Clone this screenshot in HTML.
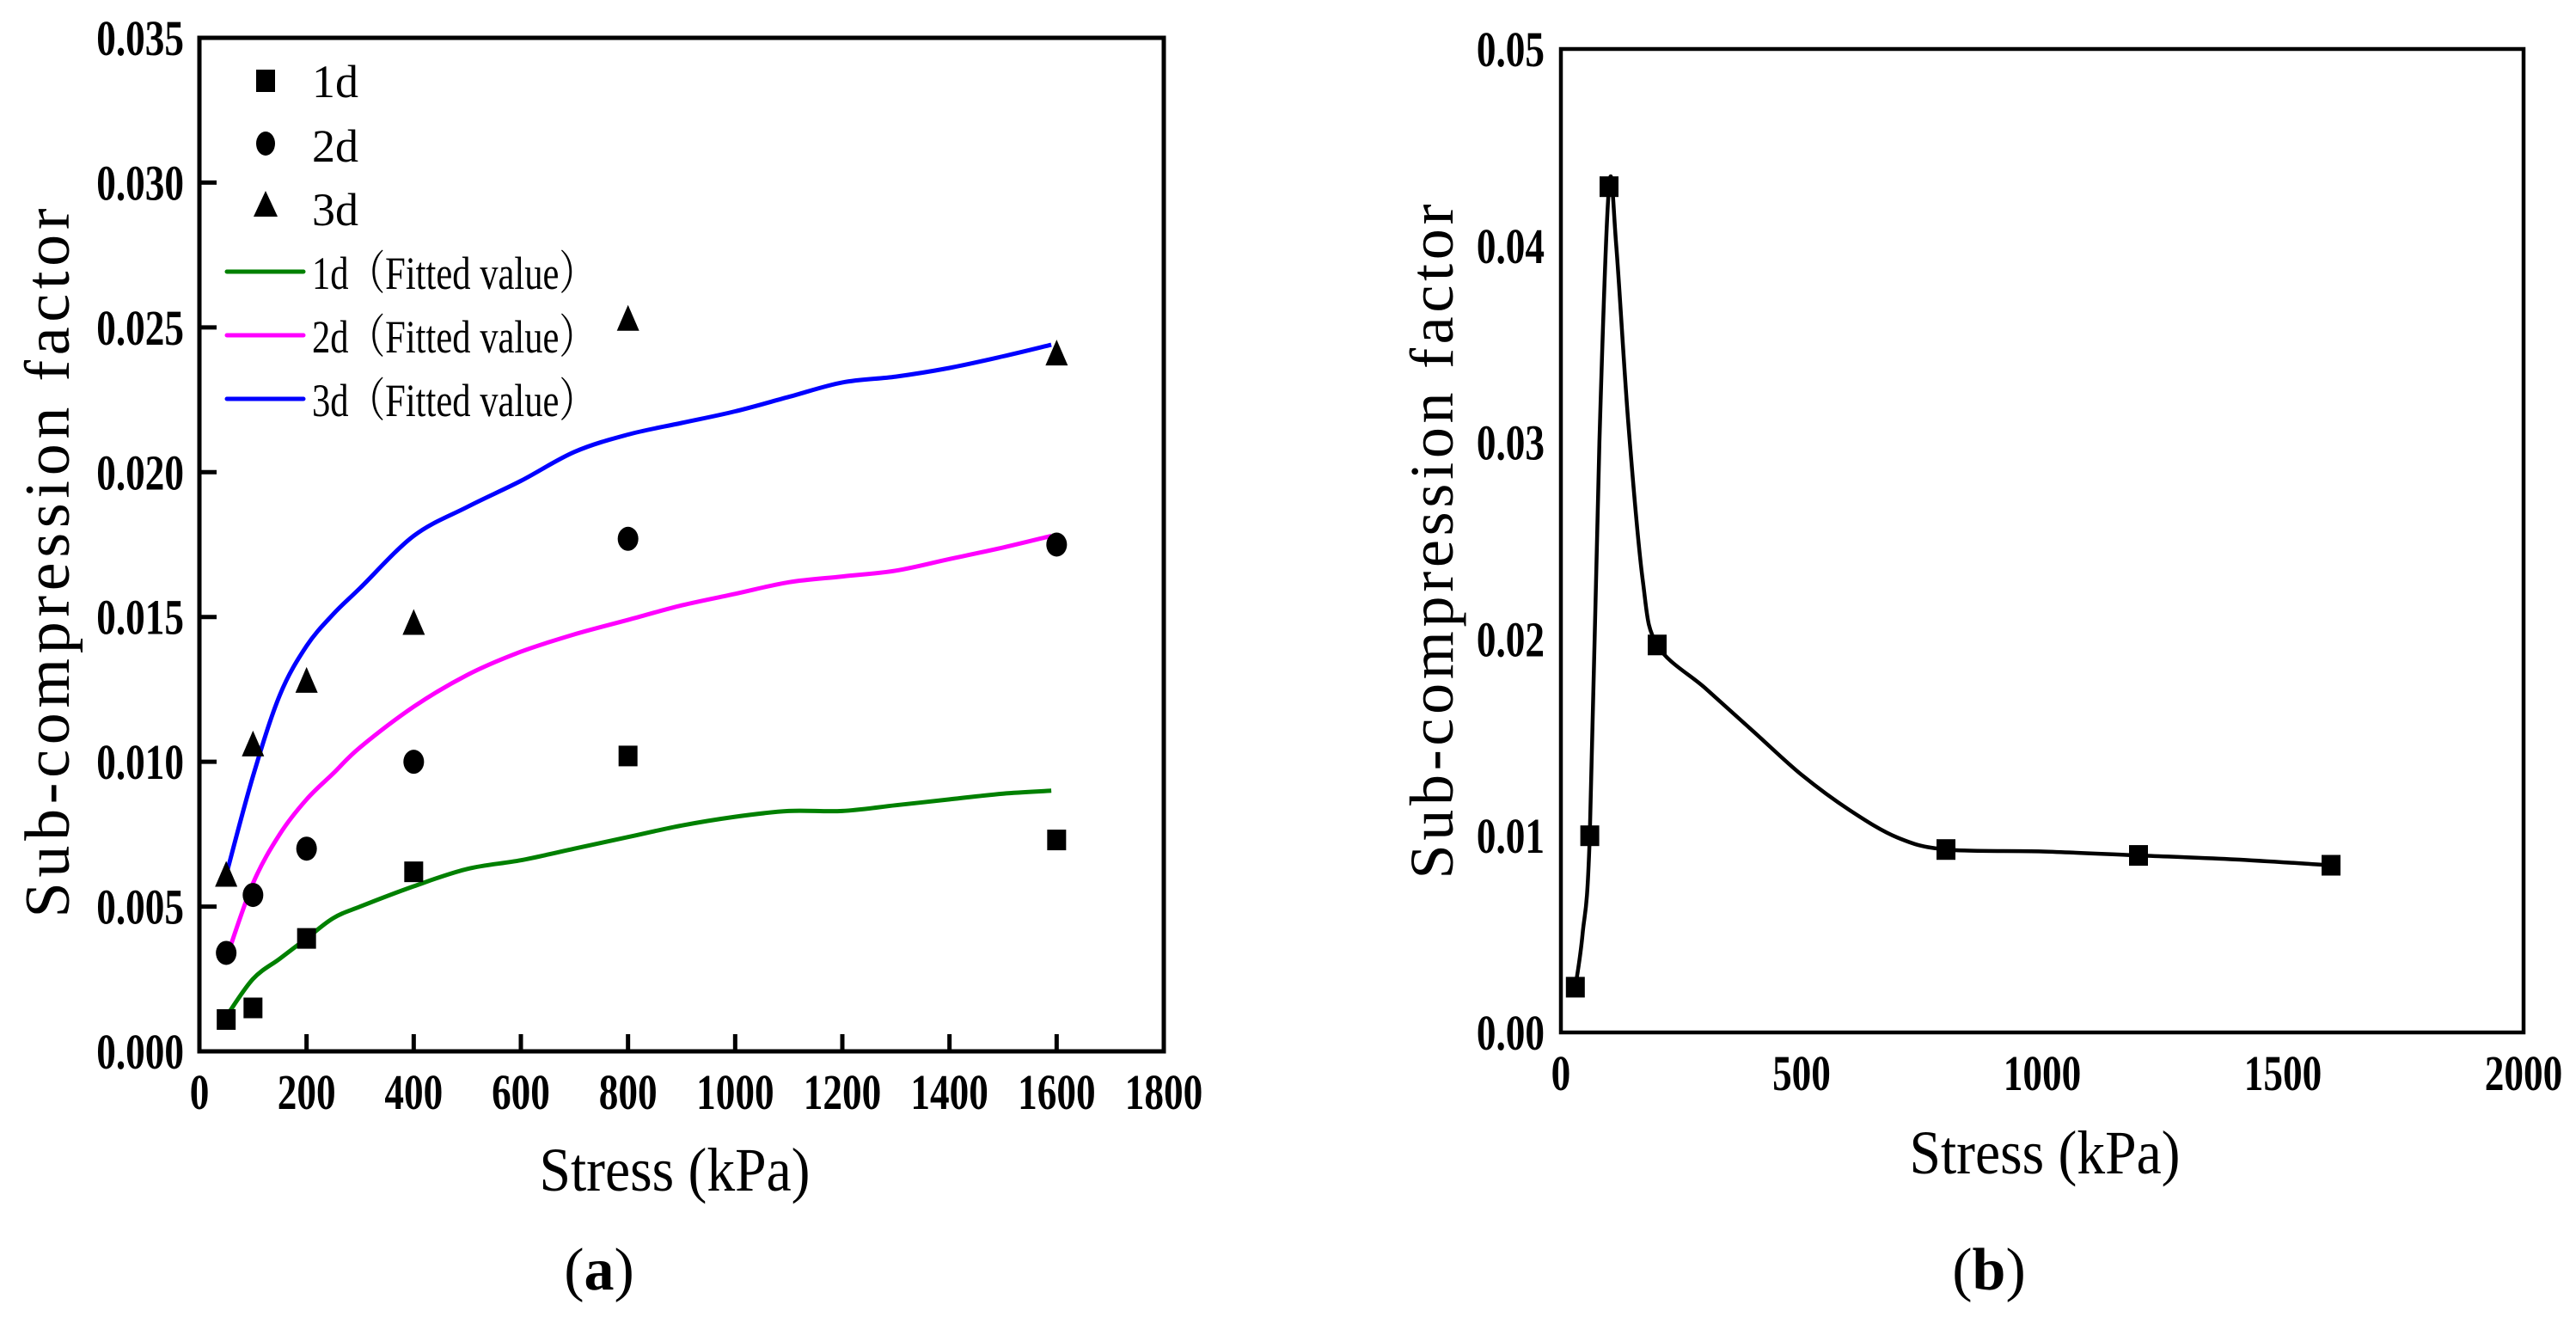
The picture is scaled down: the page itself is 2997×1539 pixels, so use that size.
<!DOCTYPE html>
<html><head><meta charset="utf-8"><style>
html,body{margin:0;padding:0;background:#fff;}
svg{display:block;}
text{font-family:"Liberation Serif",serif;fill:#000;}
.tk{font-weight:bold;font-size:58px;}
</style></head><body>
<svg id="fig" width="2997" height="1539" viewBox="0 0 2997 1539" xmlns="http://www.w3.org/2000/svg">
<g id="pa"></g>
<g id="pb"></g>
</svg>
<script>
// Panel (a) data
const aStress = [50, 100, 200, 400, 800, 1600];
const a1d = [0.0011, 0.0015, 0.0039, 0.0062, 0.0102, 0.0073];
const a2d = [0.0034, 0.0054, 0.0070, 0.0100, 0.0177, 0.0175];
const a3d = [0.0061, 0.0106, 0.0128, 0.0148, 0.0253, 0.0241];
const fitX = [50,100,150,200,250,300,400,500,600,700,800,900,1000,1100,1200,1300,1400,1500,1590];
const fit1d = [0.0012,0.0025,0.0032,0.0039,0.0046,0.0050,0.0057,0.0063,0.0066,0.0070,0.0074,0.0078,0.0081,0.0083,0.0083,0.0085,0.0087,0.0089,0.0090];
const fit2d = [0.0032,0.0058,0.0075,0.0087,0.0096,0.0105,0.0119,0.0130,0.0138,0.0144,0.0149,0.0154,0.0158,0.0162,0.0164,0.0166,0.0170,0.0174,0.0178];
const fit3d = [0.0061,0.0095,0.0123,0.0140,0.0151,0.0160,0.0178,0.0188,0.0197,0.0207,0.0213,0.0217,0.0221,0.0226,0.0231,0.0233,0.0236,0.0240,0.0244];
const aXTicks = [0,200,400,600,800,1000,1200,1400,1600,1800];
const aYTicks = ["0.000","0.005","0.010","0.015","0.020","0.025","0.030","0.035"];
// Panel (b) data
const bStress = [30, 60, 100, 200, 800, 1200, 1600];
const bVal = [0.0023, 0.0100, 0.0430, 0.0197, 0.0093, 0.0090, 0.0085];
const bCurveX = [30,45,60,80,100,115,140,170,200,300,400,500,600,700,800,1000,1200,1400,1600];
const bCurveY = [0.0023,0.0050,0.0100,0.0300,0.0430,0.0400,0.0310,0.0230,0.0197,0.0175,0.0153,0.0131,0.0113,0.0099,0.0093,0.0092,0.0090,0.0088,0.0085];
const bXTicks = [0,500,1000,1500,2000];
const bYTicks = ["0.00","0.01","0.02","0.03","0.04","0.05"];

const NS="http://www.w3.org/2000/svg";
function mk(parent,tag,attrs,txt){const e=document.createElementNS(NS,tag);for(const k in attrs)e.setAttribute(k,attrs[k]);if(txt!==undefined)e.textContent=txt;parent.appendChild(e);return e;}
function smooth(pts){
  let d='M'+pts[0][0].toFixed(1)+' '+pts[0][1].toFixed(1);
  for(let i=0;i<pts.length-1;i++){
    const p0=pts[Math.max(0,i-1)],p1=pts[i],p2=pts[i+1],p3=pts[Math.min(pts.length-1,i+2)];
    const c1x=p1[0]+(p2[0]-p0[0])/6,c1y=p1[1]+(p2[1]-p0[1])/6;
    const c2x=p2[0]-(p3[0]-p1[0])/6,c2y=p2[1]-(p3[1]-p1[1])/6;
    d+=` C${c1x.toFixed(1)} ${c1y.toFixed(1)} ${c2x.toFixed(1)} ${c2y.toFixed(1)} ${p2[0].toFixed(1)} ${p2[1].toFixed(1)}`;
  }
  return d;
}
function axes(L,R,T,B,xmax,ymax){
  return {sx:v=>L+(R-L)*v/xmax, sy:v=>B-(B-T)*v/ymax};
}
// ---------- Panel A ----------
(function(){
  const g=document.getElementById('pa');
  const L=232,R=1354,T=44,B=1223;
  const {sx,sy}=axes(L,R,T,B,1800,0.035);
  const frame=mk(g,'rect',{x:L,y:T,width:R-L,height:B-T,fill:'none',stroke:'#000','stroke-width':5});
  
  
  aXTicks.forEach(v=>{
    const x=sx(v);
    if(v>0&&v<1800){const t=mk(g,'line',{x1:x,y1:B,x2:x,y2:B-20,stroke:'#000','stroke-width':5});
    }
    const lb=mk(g,'text',{x:x,y:1290,'text-anchor':'middle',class:'tk',transform:`translate(${x} 0) scale(0.78 1) translate(${-x} 0)`},String(v));
    
  });
  aYTicks.forEach(s=>{
    const v=parseFloat(s),y=sy(v);
    if(v>0&&v<0.035){const t=mk(g,'line',{x1:L,y1:y,x2:L+20,y2:y,stroke:'#000','stroke-width':5});
    }
    const lb=mk(g,'text',{x:214,y:y+20,'text-anchor':'end',class:'tk',transform:`translate(214 0) scale(0.78 1) translate(-214 0)`},s);
    
  });
  const cols=['#008000','#ff00ff','#0000ff'];
  [fit1d,fit2d,fit3d].forEach((arr,i)=>{
    const d=smooth(fitX.map((x,j)=>[sx(x),sy(arr[j])]));
    const p=mk(g,'path',{d:d,fill:'none',stroke:cols[i],'stroke-width':5,'stroke-linejoin':'round'});
    
  });
  aStress.forEach((x,j)=>{
    const X=sx(x);
    let y=sy(a1d[j]);
    const s=mk(g,'rect',{x:X-11,y:y-12,width:22,height:24,fill:'#000'});
    
    y=sy(a2d[j]);
    const c=mk(g,'ellipse',{cx:X,cy:y,rx:12,ry:14,fill:'#000'});
    
    y=sy(a3d[j]);
    const t=mk(g,'polygon',{points:`${X},${y-16} ${X-13},${y+14} ${X+13},${y+14}`,fill:'#000'});
    
  });
  // legend
  const lg=mk(g,'g',{});
  
  mk(lg,'rect',{x:298,y:81,width:22,height:26,fill:'#000'});
  mk(lg,'ellipse',{cx:309,cy:167,rx:11,ry:14,fill:'#000'});
  mk(lg,'polygon',{points:'309,222 295,252 323,252',fill:'#000'});
  const labs=['1d','2d','3d','1d（Fitted value）','2d（Fitted value）','3d（Fitted value）'];
  const bl=[113,188,262,336,410,484];
  labs.forEach((s,i)=>{
    const attrs={x:363,y:bl[i],'font-size':54};
    if(i>=3){attrs.textLength=330;attrs.lengthAdjust='spacingAndGlyphs';}
    const t=mk(lg,'text',attrs,s);
    
    t.style.fontFamily='"Liberation Serif","Noto Serif CJK SC",serif';
    if(i>=3){mk(lg,'line',{x1:264,y1:bl[i]-20,x2:353,y2:bl[i]-20,stroke:cols[i-3],'stroke-width':5,'stroke-linecap':'round'});}
  });
  const xt=mk(g,'text',{x:785,y:1385,'text-anchor':'middle','font-size':72,textLength:315,lengthAdjust:'spacingAndGlyphs'},'Stress (kPa)');
  
  const yt=mk(g,'text',{x:0,y:0,'text-anchor':'middle','font-size':74,textLength:825,transform:'translate(80 655) rotate(-90)'},'Sub-compression factor');
  
  const cap=mk(g,'text',{x:697,y:1500,'text-anchor':'middle','font-size':70},'');
  
  mk(cap,'tspan',{},'(');mk(cap,'tspan',{'font-weight':'bold'},'a');mk(cap,'tspan',{},')');
})();
// ---------- Panel B ----------
(function(){
  const g=document.getElementById('pb');
  const L=1816,R=2936,T=57,B=1201;
  const {sx,sy}=axes(L,R,T,B,2000,0.05);
  const frame=mk(g,'rect',{x:L,y:T,width:R-L,height:B-T,fill:'none',stroke:'#000','stroke-width':4.5});
  
  bXTicks.forEach(v=>{
    const x=sx(v);
    const lb=mk(g,'text',{x:x,y:1268,'text-anchor':'middle',class:'tk',transform:`translate(${x} 0) scale(0.78 1) translate(${-x} 0)`},String(v));
    
  });
  bYTicks.forEach(s=>{
    const v=parseFloat(s),y=sy(v);
    const lb=mk(g,'text',{x:1797,y:y+20,'text-anchor':'end',class:'tk',transform:`translate(1797 0) scale(0.78 1) translate(-1797 0)`},s);
    
  });
  const d=smooth(bCurveX.map((x,j)=>[sx(x),sy(bCurveY[j])]));
  const p=mk(g,'path',{d:d,fill:'none',stroke:'#000','stroke-width':4.5,'stroke-linejoin':'round'});
  
  bStress.forEach((x,j)=>{
    const X=sx(x),Y=sy(bVal[j]);
    const s=mk(g,'rect',{x:X-11,y:Y-12,width:22,height:24,fill:'#000'});
    
  });
  const xt=mk(g,'text',{x:2379,y:1365,'text-anchor':'middle','font-size':72,textLength:315,lengthAdjust:'spacingAndGlyphs'},'Stress (kPa)');
  
  const yt=mk(g,'text',{x:0,y:0,'text-anchor':'middle','font-size':72,textLength:785,transform:'translate(1690 630) rotate(-90)'},'Sub-compression factor');
  
  const cap=mk(g,'text',{x:2314,y:1500,'text-anchor':'middle','font-size':70},'');
  
  mk(cap,'tspan',{},'(');mk(cap,'tspan',{'font-weight':'bold'},'b');mk(cap,'tspan',{},')');
})();
</script>
</body></html>
